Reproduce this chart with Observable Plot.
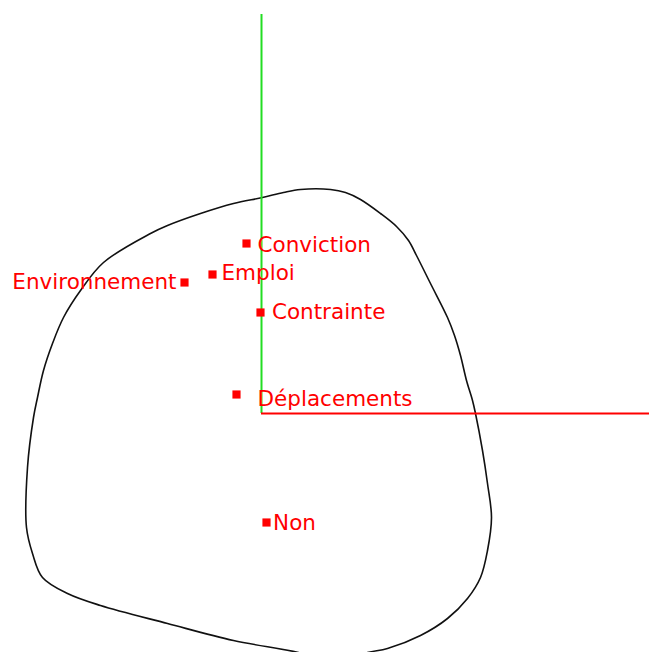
<!DOCTYPE html>
<html>
<head>
<meta charset="utf-8">
<script src="https://cdn.jsdelivr.net/npm/d3@7"></script>
<script src="https://cdn.jsdelivr.net/npm/@observablehq/plot@0.6"></script>
<style>
  html, body { margin: 0; padding: 0; background: #fff; }
  #chart svg { display: block; overflow: hidden; }
</style>
</head>
<body>
<div id="chart"></div>
<script>
// Modalities (correspondence-analysis style map)
const labels = ["Conviction", "Emploi", "Environnement", "Contrainte", "Déplacements", "Non"];
const pointX = [-0.075, -0.245, -0.385, -0.005, -0.125, 0.025];
const pointY = [0.85, 0.695, 0.655, 0.505, 0.095, -0.545];
// label anchor coordinates (data units)
const labelX = [-0.02, -0.2, -0.425, 0.052, -0.02, 0.058];
const labelY = [0.84, 0.70, 0.655, 0.505, 0.07, -0.55];
const labelAnchor = ["start", "start", "end", "start", "start", "start"];

// Enclosing contour (closed curve)
const contourX = [0.005, 0.11, 0.195, 0.345, 0.42, 0.495, 0.595, 0.675, 0.735, 0.775, 0.845, 0.93, 0.965, 0.995, 1.025, 1.055, 1.07, 1.105, 1.13, 1.15, 1.13, 1.095, 1.03, 0.93, 0.795, 0.63, 0.53, 0.37, 0.185, -0.14, -0.47, -0.805, -0.97, -1.095, -1.145, -1.175, -1.17, -1.14, -1.12, -1.09, -1.045, -0.99, -0.905, -0.79, -0.555, -0.47, -0.305, -0.14];
const contourY = [1.08, 1.105, 1.12, 1.12, 1.105, 1.07, 1.0, 0.935, 0.865, 0.79, 0.65, 0.48, 0.39, 0.29, 0.165, 0.065, 0.0, -0.185, -0.35, -0.52, -0.685, -0.82, -0.925, -1.025, -1.11, -1.175, -1.195, -1.245, -1.195, -1.135, -1.05, -0.96, -0.90, -0.82, -0.70, -0.57, -0.27, -0.02, 0.08, 0.215, 0.35, 0.48, 0.615, 0.755, 0.90, 0.94, 1.0, 1.05];

// Axis extents
const xDomain = [-1.305, 1.94];
const yDomain = [-1.195, 2.065];
const axis1End = [1.94];   // horizontal (red) axis end
const axis2End = [1.995];  // vertical (green) axis end

const points = labels.map((l, i) => ({label: l, x: pointX[i], y: pointY[i], lx: labelX[i], ly: labelY[i], anchor: labelAnchor[i]}));
const contour = contourX.map((x, i) => ({x, y: contourY[i]}));

const plot = Plot.plot({
  width: 649,
  height: 652,
  margin: 0,
  x: {domain: xDomain, axis: null},
  y: {domain: yDomain, axis: null},
  style: {background: "#fff", fontFamily: "DejaVu Sans"},
  marks: [
    Plot.line(contour, {x: "x", y: "y", curve: "catmull-rom-closed", stroke: "#111", strokeWidth: 1.6, clip: true}),
    Plot.ruleX([0], {y1: 0, y2: axis2End[0], stroke: "#22dd22", strokeWidth: 2}),
    Plot.ruleY([0], {x1: 0, x2: axis1End[0], stroke: "#ff0000", strokeWidth: 2}),
    Plot.dot(points, {x: "x", y: "y", symbol: "square", r: 4.6, fill: "#ff0000", stroke: "none"}),
    Plot.text(points.filter(d => d.anchor === "start"), {x: "lx", y: "ly", text: "label", textAnchor: "start", fill: "#ff0000", fontSize: 21.5}),
    Plot.text(points.filter(d => d.anchor === "end"), {x: "lx", y: "ly", text: "label", textAnchor: "end", fill: "#ff0000", fontSize: 21.5})
  ]
});
document.getElementById("chart").appendChild(plot);
</script>
</body>
</html>
